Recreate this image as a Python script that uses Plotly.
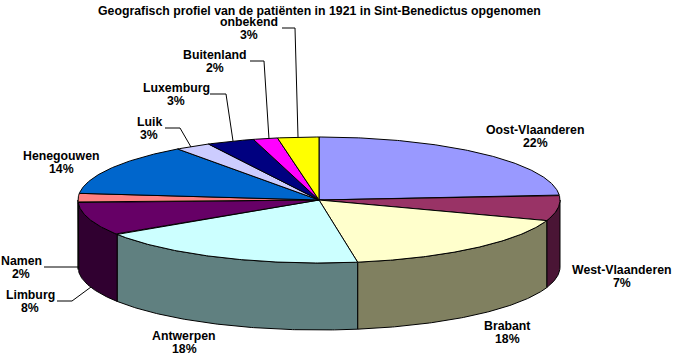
import math
import plotly.graph_objects as go

TITLE = "Geografisch profiel van de patiënten in 1921 in Sint-Benedictus opgenomen"
categories = ["Oost-Vlaanderen", "West-Vlaanderen", "Brabant", "Antwerpen", "Limburg", "Namen",
              "Henegouwen", "Luik", "Luxemburg", "Buitenland", "onbekend"]
values = [22.4, 6.6, 18.4, 17.5, 8.1, 2.3, 14.2, 2.6, 3.4, 1.7, 2.8]
top_colors = ["#9999FF", "#993366", "#FFFFCC", "#CCFFFF", "#660066", "#FF8080",
              "#0066CC", "#CCCCFF", "#000080", "#FF00FF", "#FFFF00"]
side_colors = ["#4D4D80", "#4A1535", "#808060", "#608080", "#300030", "#804040",
               "#003366", "#666680", "#000040", "#800080", "#808000"]

# label centres (pixels) and leader lines
label_pos = [(535, 136.5), (622, 276), (507, 332), (184, 342), (30, 301.5), (21, 267.5),
             (61, 162), (149, 128.5), (176, 94.5), (215, 61), (249, 28.5)]
LINE_GAP = 13
leaders = {
    "onbekend": [(282, 28), (295, 28), (298, 137)],
    "Buitenland": [(250, 61), (264, 61), (269, 139)],
    "Luxemburg": [(210, 94), (226, 94), (233, 141)],
    "Luik": [(165, 128), (180, 128), (191, 147)],
    "Namen": [(44, 267), (79, 267)],
    "Limburg": [(57, 301), (72, 301), (91, 287)],
}

CX, CY, RX, RY, DEPTH, WARP = 319, 200, 241, 63, 67, 5.0
FONT = dict(family="Liberation Sans", size=12.3, color="black", weight=700)


def project(deg, drop=0):
    """Clockwise angle from the top to a point on the tilted disc."""
    r = math.radians(deg)
    return CX + RX * math.sin(r), CY - RY * math.cos(r) + drop


def warp(deg):
    """The reference's 3D projection pushes the sides slightly clockwise."""
    return deg + WARP * math.sin(math.radians(deg)) ** 2


def arc(a, b, drop=0):
    n = max(2, int(abs(b - a) * 2))
    return [project(a + (b - a) * i / n, drop) for i in range(n + 1)]


fig = go.Figure()
bounds = []
cum = 0.0
total = sum(values)
for v in values:
    start = warp(cum / total * 360)
    cum += v
    bounds.append((start, warp(cum / total * 360)))


def poly(points, fill, name):
    fig.add_trace(go.Scatter(
        x=[p[0] for p in points] + [points[0][0]],
        y=[p[1] for p in points] + [points[0][1]],
        mode="lines", fill="toself", fillcolor=fill,
        line=dict(color="black", width=1), name=name,
        hoverinfo="skip", showlegend=False))


# visible wall (front half of the disc)
for (a, b), c, name in zip(bounds, side_colors, categories):
    lo, hi = max(a, 90), min(b, 270)
    if hi > lo:
        poly(arc(lo, hi) + arc(hi, lo, DEPTH), c, name)

# top faces
for (a, b), c, name in zip(bounds, top_colors, categories):
    poly([(CX, CY)] + arc(a, b), c, name)

# leader lines
for name, pts in leaders.items():
    fig.add_trace(go.Scatter(x=[p[0] for p in pts], y=[p[1] for p in pts], mode="lines",
                             line=dict(color="black", width=1), hoverinfo="skip",
                             showlegend=False))

annotations = [dict(x=319.5, y=11, text=TITLE, showarrow=False, font=FONT,
                    xanchor="center", yanchor="middle")]
for name, v, (x, y) in zip(categories, values, label_pos):
    annotations.append(dict(x=x, y=y - LINE_GAP / 2, text=name, showarrow=False,
                            font=FONT, xanchor="center", yanchor="middle"))
    annotations.append(dict(x=x, y=y + LINE_GAP / 2, text=f"{int(v + 0.5)}%", showarrow=False,
                            font=FONT, xanchor="center", yanchor="middle"))

fig.update_layout(
    width=674, height=356, autosize=False,
    margin=dict(l=0, r=0, t=0, b=0),
    paper_bgcolor="white", plot_bgcolor="white",
    xaxis=dict(range=[0, 674], visible=False, fixedrange=True),
    yaxis=dict(range=[356, 0], visible=False, fixedrange=True),
    annotations=annotations,
)
fig.write_html("out.html", config=dict(displayModeBar=False),
               post_script="document.body.style.margin='0';document.body.style.overflow='hidden';")
